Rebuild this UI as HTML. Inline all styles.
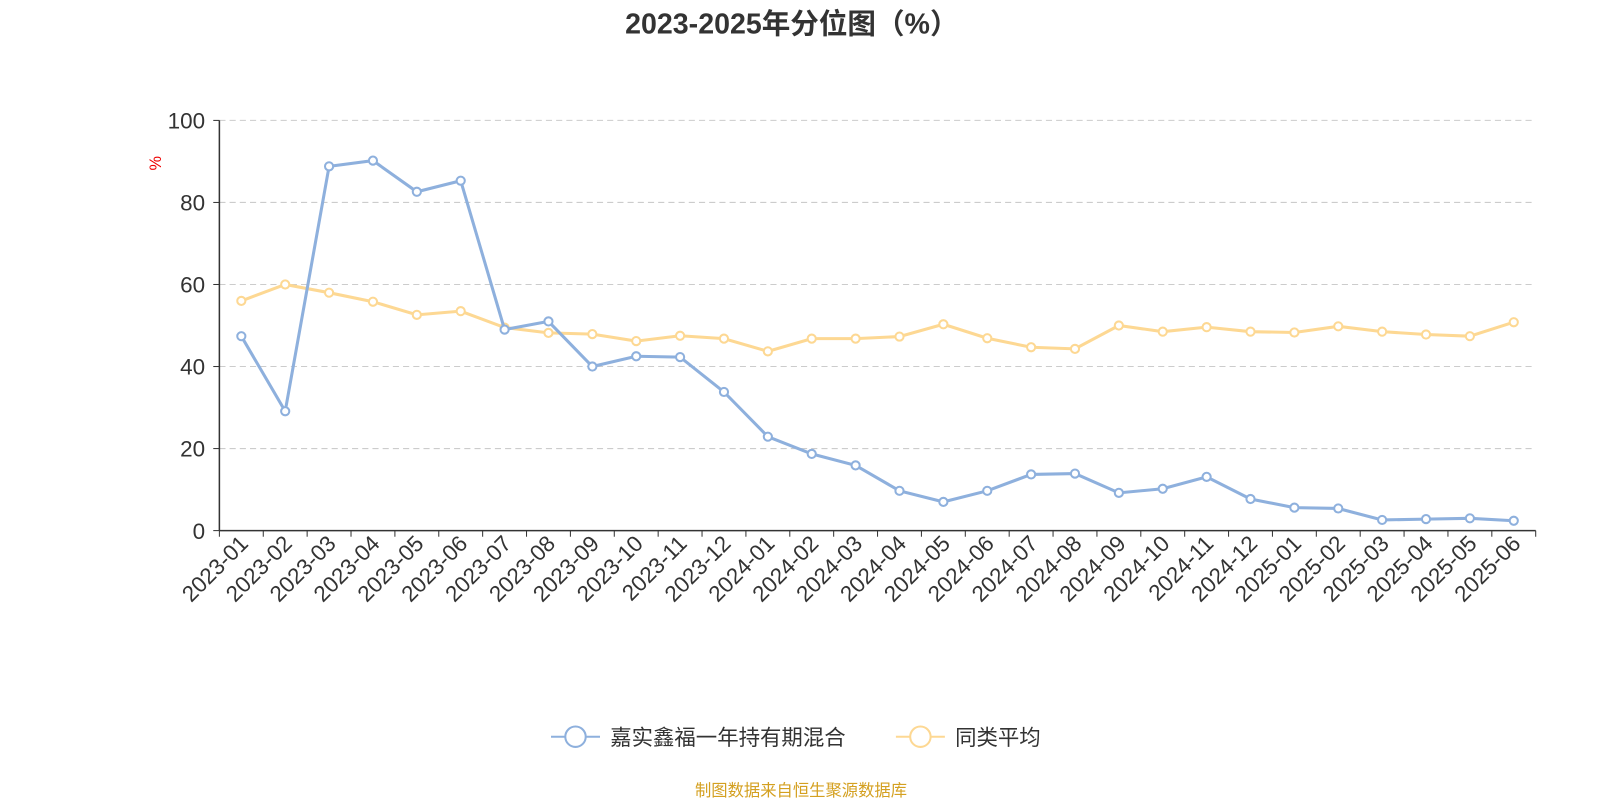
<!DOCTYPE html>
<html><head><meta charset="utf-8"><style>
body{margin:0;background:#fff;}
svg text{font-family:"Liberation Sans","Noto Sans CJK SC",sans-serif;}
</style></head><body>
<svg id="chart" width="1600" height="800" xmlns="http://www.w3.org/2000/svg">
<g transform="scale(1.0204)">
<text x="776" y="33" text-anchor="middle" font-size="28" font-weight="bold" fill="#333">2023-2025年分位图（%）</text>
<text x="158" y="160" font-size="16" fill="#e00" transform="rotate(-90 158 160)" text-anchor="middle">%</text>
<g id="grid"></g><g id="axes"></g><g id="series"></g>
<g>
<g>
<line x1="540" y1="722" x2="588" y2="722" stroke="#8eb0dd" stroke-width="2"/>
<circle cx="564" cy="722" r="10" fill="#fff" stroke="#8eb0dd" stroke-width="2"/>
<text x="598" y="730" font-size="21" fill="#333">嘉实鑫福一年持有期混合</text></g>
<g>
<line x1="878" y1="722" x2="926" y2="722" stroke="#fdd893" stroke-width="2"/>
<circle cx="902" cy="722" r="10" fill="#fff" stroke="#fdd893" stroke-width="2"/>
<text x="936" y="730" font-size="21" fill="#333">同类平均</text></g>
</g>
<text x="785" y="780" text-anchor="middle" font-size="16" fill="#d4a020">制图数据来自恒生聚源数据库</text>
</g>
</svg>
<script>
const categories=["2023-01","2023-02","2023-03","2023-04","2023-05","2023-06","2023-07","2023-08","2023-09","2023-10","2023-11","2023-12","2024-01","2024-02","2024-03","2024-04","2024-05","2024-06","2024-07","2024-08","2024-09","2024-10","2024-11","2024-12","2025-01","2025-02","2025-03","2025-04","2025-05","2025-06"];
const fundValues=[47.4,29.1,88.8,90.2,82.6,85.3,49,51,40,42.5,42.3,33.8,22.9,18.7,15.9,9.7,7,9.7,13.7,13.9,9.2,10.2,13.1,7.7,5.6,5.4,2.6,2.8,3,2.4];
const avgValues=[56,60,58,55.8,52.6,53.5,49.5,48.2,47.9,46.2,47.5,46.8,43.7,46.8,46.8,47.3,50.3,46.9,44.7,44.3,50,48.5,49.6,48.5,48.3,49.8,48.5,47.8,47.4,50.8];
const yTicks=[0,20,40,60,80,100];
const NS="http://www.w3.org/2000/svg";
const L=215,R=1505,T=118,B=520;
const bw=(R-L)/categories.length;
const x=i=>L+bw*(i+0.5);
const y=v=>B-(v/100)*(B-T);
function mk(tag,attrs,parent){const e=document.createElementNS(NS,tag);for(const k in attrs)e.setAttribute(k,attrs[k]);parent.appendChild(e);return e;}
const grid=document.getElementById('grid'),axes=document.getElementById('axes'),series=document.getElementById('series');
yTicks.forEach(t=>{
 if(t>0){const g=mk('line',{x1:L,x2:R,y1:y(t),y2:y(t),stroke:'#ccc','stroke-dasharray':'6,4'},grid);
 
 }
 const tl=mk('line',{x1:L-6,x2:L,y1:y(t),y2:y(t),stroke:'#333'},axes);
 
 
 const tx=mk('text',{x:L-14,y:y(t)+8,'text-anchor':'end','font-size':22,fill:'#333'},axes);
 tx.textContent=t;
 
 
});
const ya=mk('line',{x1:L,x2:L,y1:T,y2:B,stroke:'#333','stroke-width':1.5},axes);


const xa=mk('line',{x1:L,x2:R,y1:B,y2:B,stroke:'#333','stroke-width':1.5},axes);


for(let i=0;i<=categories.length;i++){
 const tk=mk('line',{x1:L+bw*i,x2:L+bw*i,y1:B,y2:B+6,stroke:'#333'},axes);
 
 
}
categories.forEach((c,i)=>{
 const tx=mk('text',{x:x(i)+8,y:B+14,'text-anchor':'end','font-size':22,fill:'#333',transform:`rotate(-45 ${x(i)+8} ${B+14})`},axes);
 tx.textContent=c;
 
 
});
function draw(vals,color,name){
 const p=mk('polyline',{points:vals.map((v,i)=>x(i)+','+y(v)).join(' '),fill:'none',stroke:color,'stroke-width':3},series);
 
 
 vals.forEach((v,i)=>{
  const c=mk('circle',{cx:x(i),cy:y(v),r:4,fill:'#fff',stroke:color,'stroke-width':2},series);
  
  
 });
}
draw(avgValues,'#fdd893','average');
draw(fundValues,'#8eb0dd','fund');
</script>
</body></html>
